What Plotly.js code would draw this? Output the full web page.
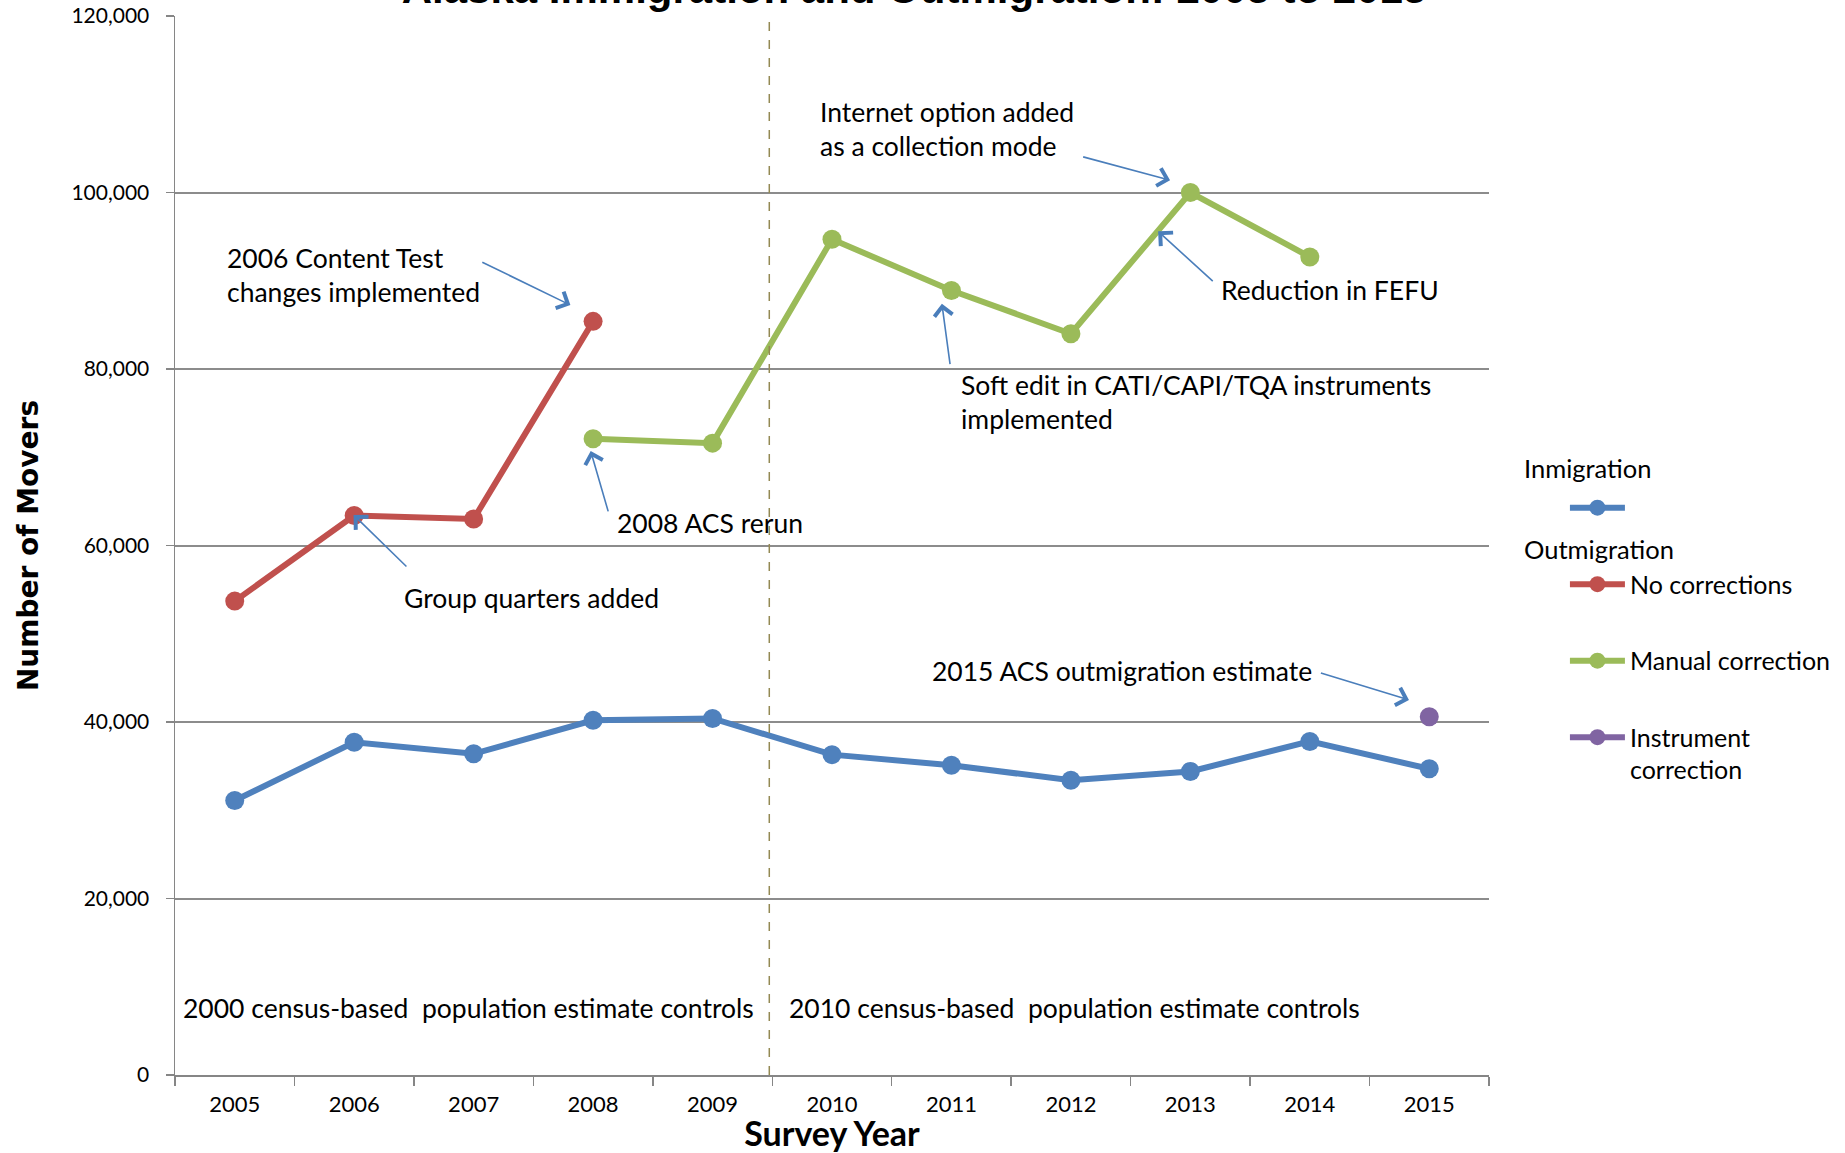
<!DOCTYPE html>
<html>
<head>
<meta charset="utf-8">
<script src="https://cdn.plot.ly/plotly-3.0.1.min.js"></script>
<style>html,body{margin:0;padding:0;background:#fff;}</style>
</head>
<body>
<div id="chart" style="width:1845px;height:1153px;"></div>
<script>
// ---- data ----
const years = ["2005","2006","2007","2008","2009","2010","2011","2012","2013","2014","2015"];
const inmigration = [31100, 37700, 36400, 40200, 40400, 36300, 35100, 33400, 34400, 37800, 34700];
const outNoCorrections = [53700, 63400, 63000, 85400, null, null, null, null, null, null, null];
const outManualCorrection = [null, null, null, 72100, 71600, 94700, 88900, 84000, 100000, 92700, null];
const outInstrumentCorrection = [null, null, null, null, null, null, null, null, null, null, 40600];
const seriesNames = ["\u00a0", "No corrections", "Manual correction", "Instrument<br>correction"];
const seriesColors = ["#4f81bd", "#c0504d", "#9bbb59", "#8064a2"];

const FONT = "Lato, 'Open Sans', sans-serif";

function lineTrace(y, i) {
  return {
    type: "scatter", mode: "lines+markers",
    x: years, y: y, name: seriesNames[i],
    legendgroup: "g" + i,
    connectgaps: false,
    line: {color: seriesColors[i], width: 6},
    marker: {color: seriesColors[i], size: 19, symbol: "circle"},
    hoverinfo: "x+y"
  };
}
const traces = [
  lineTrace(inmigration, 0),
  lineTrace(outNoCorrections, 1),
  lineTrace(outManualCorrection, 2),
  lineTrace(outInstrumentCorrection, 3)
];

// annotation texts and arrow positions (category index, value)
const notes = [
  {t: "2006 Content Test<br>changes implemented", x: -0.08, y: 90600},
  {t: "Group quarters added", x: 1.40, y: 54000},
  {t: "2008 ACS rerun", x: 3.18, y: 62500},
  {t: "Internet option added<br>as a collection mode", x: 4.88, y: 107150},
  {t: "Reduction in FEFU", x: 8.24, y: 89000},
  {t: "Soft edit in CATI/CAPI/TQA instruments<br>implemented", x: 6.06, y: 76300},
  {t: "2015 ACS outmigration estimate", x: 5.82, y: 45800},
  {t: "2000 census-based\u00a0\u00a0population estimate controls", x: -0.45, y: 7600},
  {t: "2010 census-based\u00a0\u00a0population estimate controls", x: 4.62, y: 7600}
];
const arrows = [
  {x: 2.81, y: 87240, ax: 2.06, ay: 92180},
  {x: 0.995, y: 63460, ax: 1.45, ay: 57450},
  {x: 2.98, y: 70700, ax: 3.13, ay: 63700},
  {x: 7.83, y: 101400, ax: 7.09, ay: 104080},
  {x: 7.73, y: 95600, ax: 8.20, ay: 89800},
  {x: 5.92, y: 87400, ax: 5.99, ay: 80370},
  {x: 9.83, y: 42500, ax: 9.08, ay: 45600}
];

const annotations = [];
notes.forEach(n => annotations.push({
  xref: "x", yref: "y", x: n.x, y: n.y, text: n.t, showarrow: false,
  xanchor: "left", yanchor: "middle", align: "left",
  font: {family: FONT, size: 26.5, color: "#000"}
}));
arrows.forEach(a => annotations.push({
  xref: "x", yref: "y", axref: "x", ayref: "y",
  x: a.x, y: a.y, ax: a.ax, ay: a.ay, text: "", showarrow: true,
  arrowhead: 4, arrowsize: 2.2, arrowwidth: 1.6, arrowcolor: "#4a7ebb", standoff: 0
}));
annotations.push({xref: "paper", yref: "paper", x: 1.0251, y: 0.5733, text: "Inmigration",
  showarrow: false, xanchor: "left", yanchor: "middle", font: {family: FONT, size: 25.5, color: "#000"}});
annotations.push({xref: "paper", yref: "paper", x: 1.0251, y: 0.4971, text: "Outmigration",
  showarrow: false, xanchor: "left", yanchor: "middle", font: {family: FONT, size: 25.5, color: "#000"}});

const layout = {
  width: 1845, height: 1153,
  margin: {l: 175, r: 356, t: 16, b: 78},
  paper_bgcolor: "#fff", plot_bgcolor: "#fff",
  title: {
    text: "Alaska Immigration and Outmigration: 2005 to 2015",
    font: {family: "'Liberation Sans', Arial, sans-serif", size: 42, weight: "bold", color: "#000"},
    xref: "container", yref: "container", x: 0.4954, xanchor: "center", y: 0.9974, yanchor: "bottom"
  },
  xaxis: {
    type: "category", categoryorder: "array", categoryarray: years,
    range: [-0.5, 10.5], tickson: "boundaries",
    showgrid: false, zeroline: false,
    showline: true, linecolor: "#868686", linewidth: 2,
    ticks: "outside", ticklen: 9, tickcolor: "#868686", tickwidth: 1.5,
    ticklabelstandoff: 9,
    tickfont: {family: FONT, size: 22, color: "#000"},
    title: {text: "Survey Year", standoff: 0,
      font: {family: FONT, size: 34, weight: "bold", color: "#000"}},
    fixedrange: true
  },
  yaxis: {
    range: [0, 120000], dtick: 20000, tick0: 0, tickformat: ",d",
    showgrid: true, gridcolor: "#8c8c8c", gridwidth: 2,
    zeroline: false,
    showline: true, linecolor: "#868686", linewidth: 1.5,
    ticks: "outside", ticklen: 8, tickcolor: "#868686", tickwidth: 1.5,
    ticklabelstandoff: 12,
    tickfont: {family: FONT, size: 21, color: "#000"},
    title: {text: "Number of Movers", standoff: 24,
      font: {family: "'DejaVu Sans', Verdana, sans-serif", size: 28, weight: "bold", color: "#000"}},
    fixedrange: true
  },
  showlegend: true,
  legend: {
    xref: "container", yref: "container", x: 0.8482, xanchor: "left", y: 0.5794, yanchor: "top",
    traceorder: "grouped", tracegroupgap: 41, valign: "top", itemwidth: 55,
    bgcolor: "rgba(0,0,0,0)", borderwidth: 0,
    font: {family: FONT, size: 25, color: "#000"}
  },
  shapes: [{
    type: "line", xref: "x", yref: "y", x0: 4.475, x1: 4.475, y0: 0, y1: 119400,
    line: {color: "#938953", width: 1.5, dash: "dash"}
  }],
  annotations: annotations
};

Plotly.newPlot("chart", traces, layout, {displayModeBar: false, staticPlot: true});
</script>
</body>
</html>
